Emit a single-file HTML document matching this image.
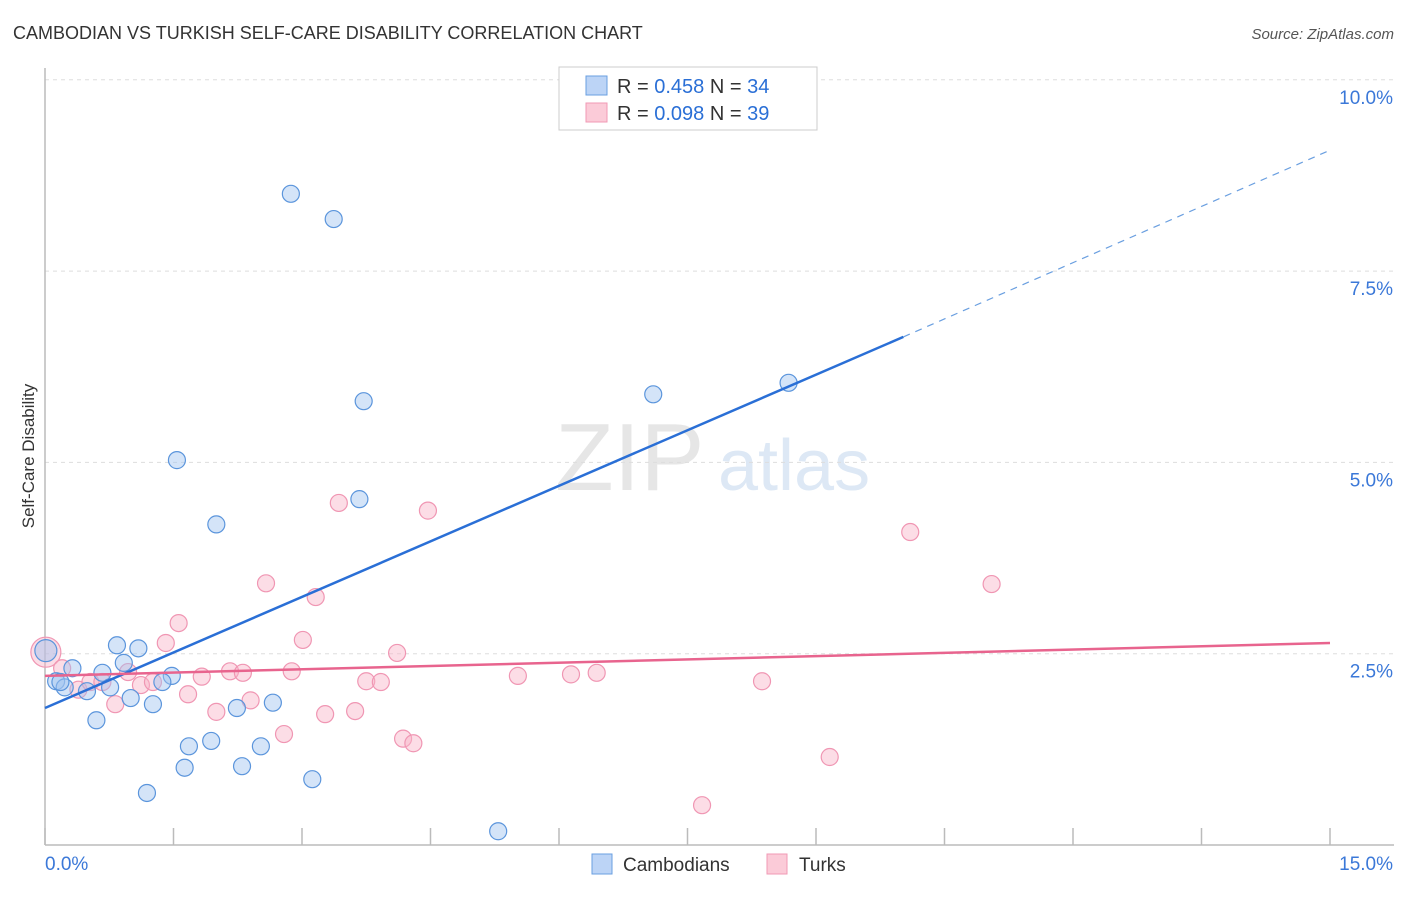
<!DOCTYPE html>
<html><head><meta charset="utf-8"><style>
body{margin:0;background:#fff;font-family:"Liberation Sans",sans-serif;}
svg text{font-family:"Liberation Sans",sans-serif;}
</style></head><body>
<svg id="c" width="1406" height="892">
<text x="13" y="39" font-size="18" fill="#333">CAMBODIAN VS TURKISH SELF-CARE DISABILITY CORRELATION CHART</text>
<text x="1394" y="39" font-size="15" fill="#555" font-style="italic" text-anchor="end">Source: ZipAtlas.com</text>
<text x="34" y="456" font-size="17" fill="#333" text-anchor="middle" transform="rotate(-90 34 456)">Self-Care Disability</text>
<text x="555" y="490" font-size="96" fill="#e6e6e6" font-family="Liberation Serif">ZIP</text>
<text x="718" y="490" font-size="72" fill="#dde8f5">atlas</text>
<g id="grid"></g><g id="pts"></g><g id="lines"></g>
<g>
<rect x="559" y="67" width="258" height="63" fill="#fff" stroke="#ccc"/>
<rect x="586" y="76" width="21" height="19" fill="#bcd4f6" stroke="#6a9fe0"/>
<rect x="586" y="103" width="21" height="19" fill="#fbcbd8" stroke="#f09ab5"/>
<text x="617" y="93" font-size="20" fill="#333">R = <tspan fill="#2a6fd6">0.458</tspan>   N = <tspan fill="#2a6fd6">34</tspan></text>
<text x="617" y="120" font-size="20" fill="#333">R = <tspan fill="#2a6fd6">0.098</tspan>   N = <tspan fill="#2a6fd6">39</tspan></text>
</g>
<g>
<rect x="592" y="854" width="20" height="20" fill="#bcd4f6" stroke="#6a9fe0"/>
<text x="623" y="871" font-size="19" fill="#333">Cambodians</text>
<text x="0" y="0"></text>
<rect x="767" y="854" width="20" height="20" fill="#fbcbd8" stroke="#f09ab5"/>
<text x="799" y="871" font-size="19" fill="#333">Turks</text>
</g>
</svg>
<script>
const yTicks=[2.5,5.0,7.5,10.0];
const yTickLabels=["2.5%","5.0%","7.5%","10.0%"];
const xTicks=[0,1.5,3,4.5,6,7.5,9,10.5,12,13.5,15];
const cambX=[2.87,3.37,3.72,1.54,3.67,2.00,7.10,8.68,0.84,1.09,0.92,0.32,0.67,1.48,0.13,1.37,0.23,0.49,0.76,1.00,1.26,2.24,2.66,0.60,1.94,1.68,2.52,1.63,2.30,3.12,1.19,5.29,0.01,0.18];
const cambY=[8.51,8.18,5.80,5.03,4.52,4.19,5.89,6.04,2.61,2.57,2.38,2.31,2.25,2.21,2.14,2.13,2.06,2.01,2.06,1.92,1.84,1.79,1.86,1.63,1.36,1.29,1.29,1.01,1.03,0.86,0.68,0.18,2.54,2.13];
const turkX=[0.01,0.20,0.39,0.53,0.67,0.82,0.97,1.12,1.26,1.41,1.56,1.67,1.83,2.00,2.16,2.31,2.40,2.58,2.79,2.88,3.01,3.16,3.27,3.43,3.62,3.75,3.92,4.11,4.18,4.30,4.47,5.52,6.14,6.44,7.67,8.37,9.16,10.10,11.05];
const turkY=[2.52,2.31,2.03,2.13,2.13,1.84,2.26,2.09,2.13,2.64,2.90,1.97,2.20,1.74,2.27,2.25,1.89,3.42,1.45,2.27,2.68,3.24,1.71,4.47,1.75,2.14,2.13,2.51,1.39,1.33,4.37,2.21,2.23,2.25,0.52,2.14,1.15,4.09,3.41];
const cambTrend=[[0,1.79],[10.02,6.64]];
const cambTrendDash=[[10.02,6.64],[15,9.08]];
const turkTrend=[[0,2.21],[15,2.64]];
const NS="http://www.w3.org/2000/svg";
const X=v=>45+v/15*1285;
const Y=v=>845-v/2.5*191.3;
function mk(tag,attrs,parent){const e=document.createElementNS(NS,tag);for(const k in attrs)e.setAttribute(k,attrs[k]);parent.appendChild(e);return e;}
const grid=document.getElementById('grid'),pts=document.getElementById('pts'),lines=document.getElementById('lines');
yTicks.forEach((t,i)=>{
 const l=mk('line',{x1:45,x2:1394,y1:Y(t),y2:Y(t),stroke:'#ddd','stroke-dasharray':'4,4'},grid);
 
 
 const tx=mk('text',{x:1393,y:Y(t)+24,'font-size':19,fill:'#3b78d8','text-anchor':'end'},grid);
 tx.textContent=yTickLabels[i];
 
 
});
const ax=mk('line',{x1:45,x2:1394,y1:845,y2:845,stroke:'#bbb','stroke-width':1.5},grid);


const ay=mk('line',{x1:45,x2:45,y1:68,y2:845,stroke:'#bbb','stroke-width':1.5},grid);


xTicks.forEach(t=>{
 const l=mk('line',{x1:X(t),x2:X(t),y1:828,y2:845,stroke:'#bbb','stroke-width':1.5},grid);
 
 
});
const xl0=mk('text',{x:45,y:870,'font-size':19,fill:'#3b78d8'},grid);xl0.textContent='0.0%';


const xl1=mk('text',{x:1393,y:870,'font-size':19,fill:'#3b78d8','text-anchor':'end'},grid);xl1.textContent='15.0%';


turkX.forEach((v,i)=>{
 const c=mk('circle',{cx:X(v),cy:Y(turkY[i]),r:i===0?15:8.5,fill:'rgba(248,180,200,0.45)',stroke:'#f096b3','stroke-width':1.2},pts);
 
 
});
cambX.forEach((v,i)=>{
 const c=mk('circle',{cx:X(v),cy:Y(cambY[i]),r:i===32?11:8.5,fill:'rgba(160,195,240,0.45)',stroke:'#5b95dc','stroke-width':1.2},pts);
 
 
});
function ln(p,st,name){const l=mk('line',Object.assign({x1:X(p[0][0]),y1:Y(p[0][1]),x2:X(p[1][0]),y2:Y(p[1][1])},st),lines);
 
 }
ln(cambTrend,{stroke:'#2a6fd6','stroke-width':2.5},'cambodian-trendline');
ln(cambTrendDash,{stroke:'#6a9fe0','stroke-width':1.2,'stroke-dasharray':'7,6'},'cambodian-trendline-extension');
ln(turkTrend,{stroke:'#e8648e','stroke-width':2.5},'turk-trendline');
</script>
</body></html>
